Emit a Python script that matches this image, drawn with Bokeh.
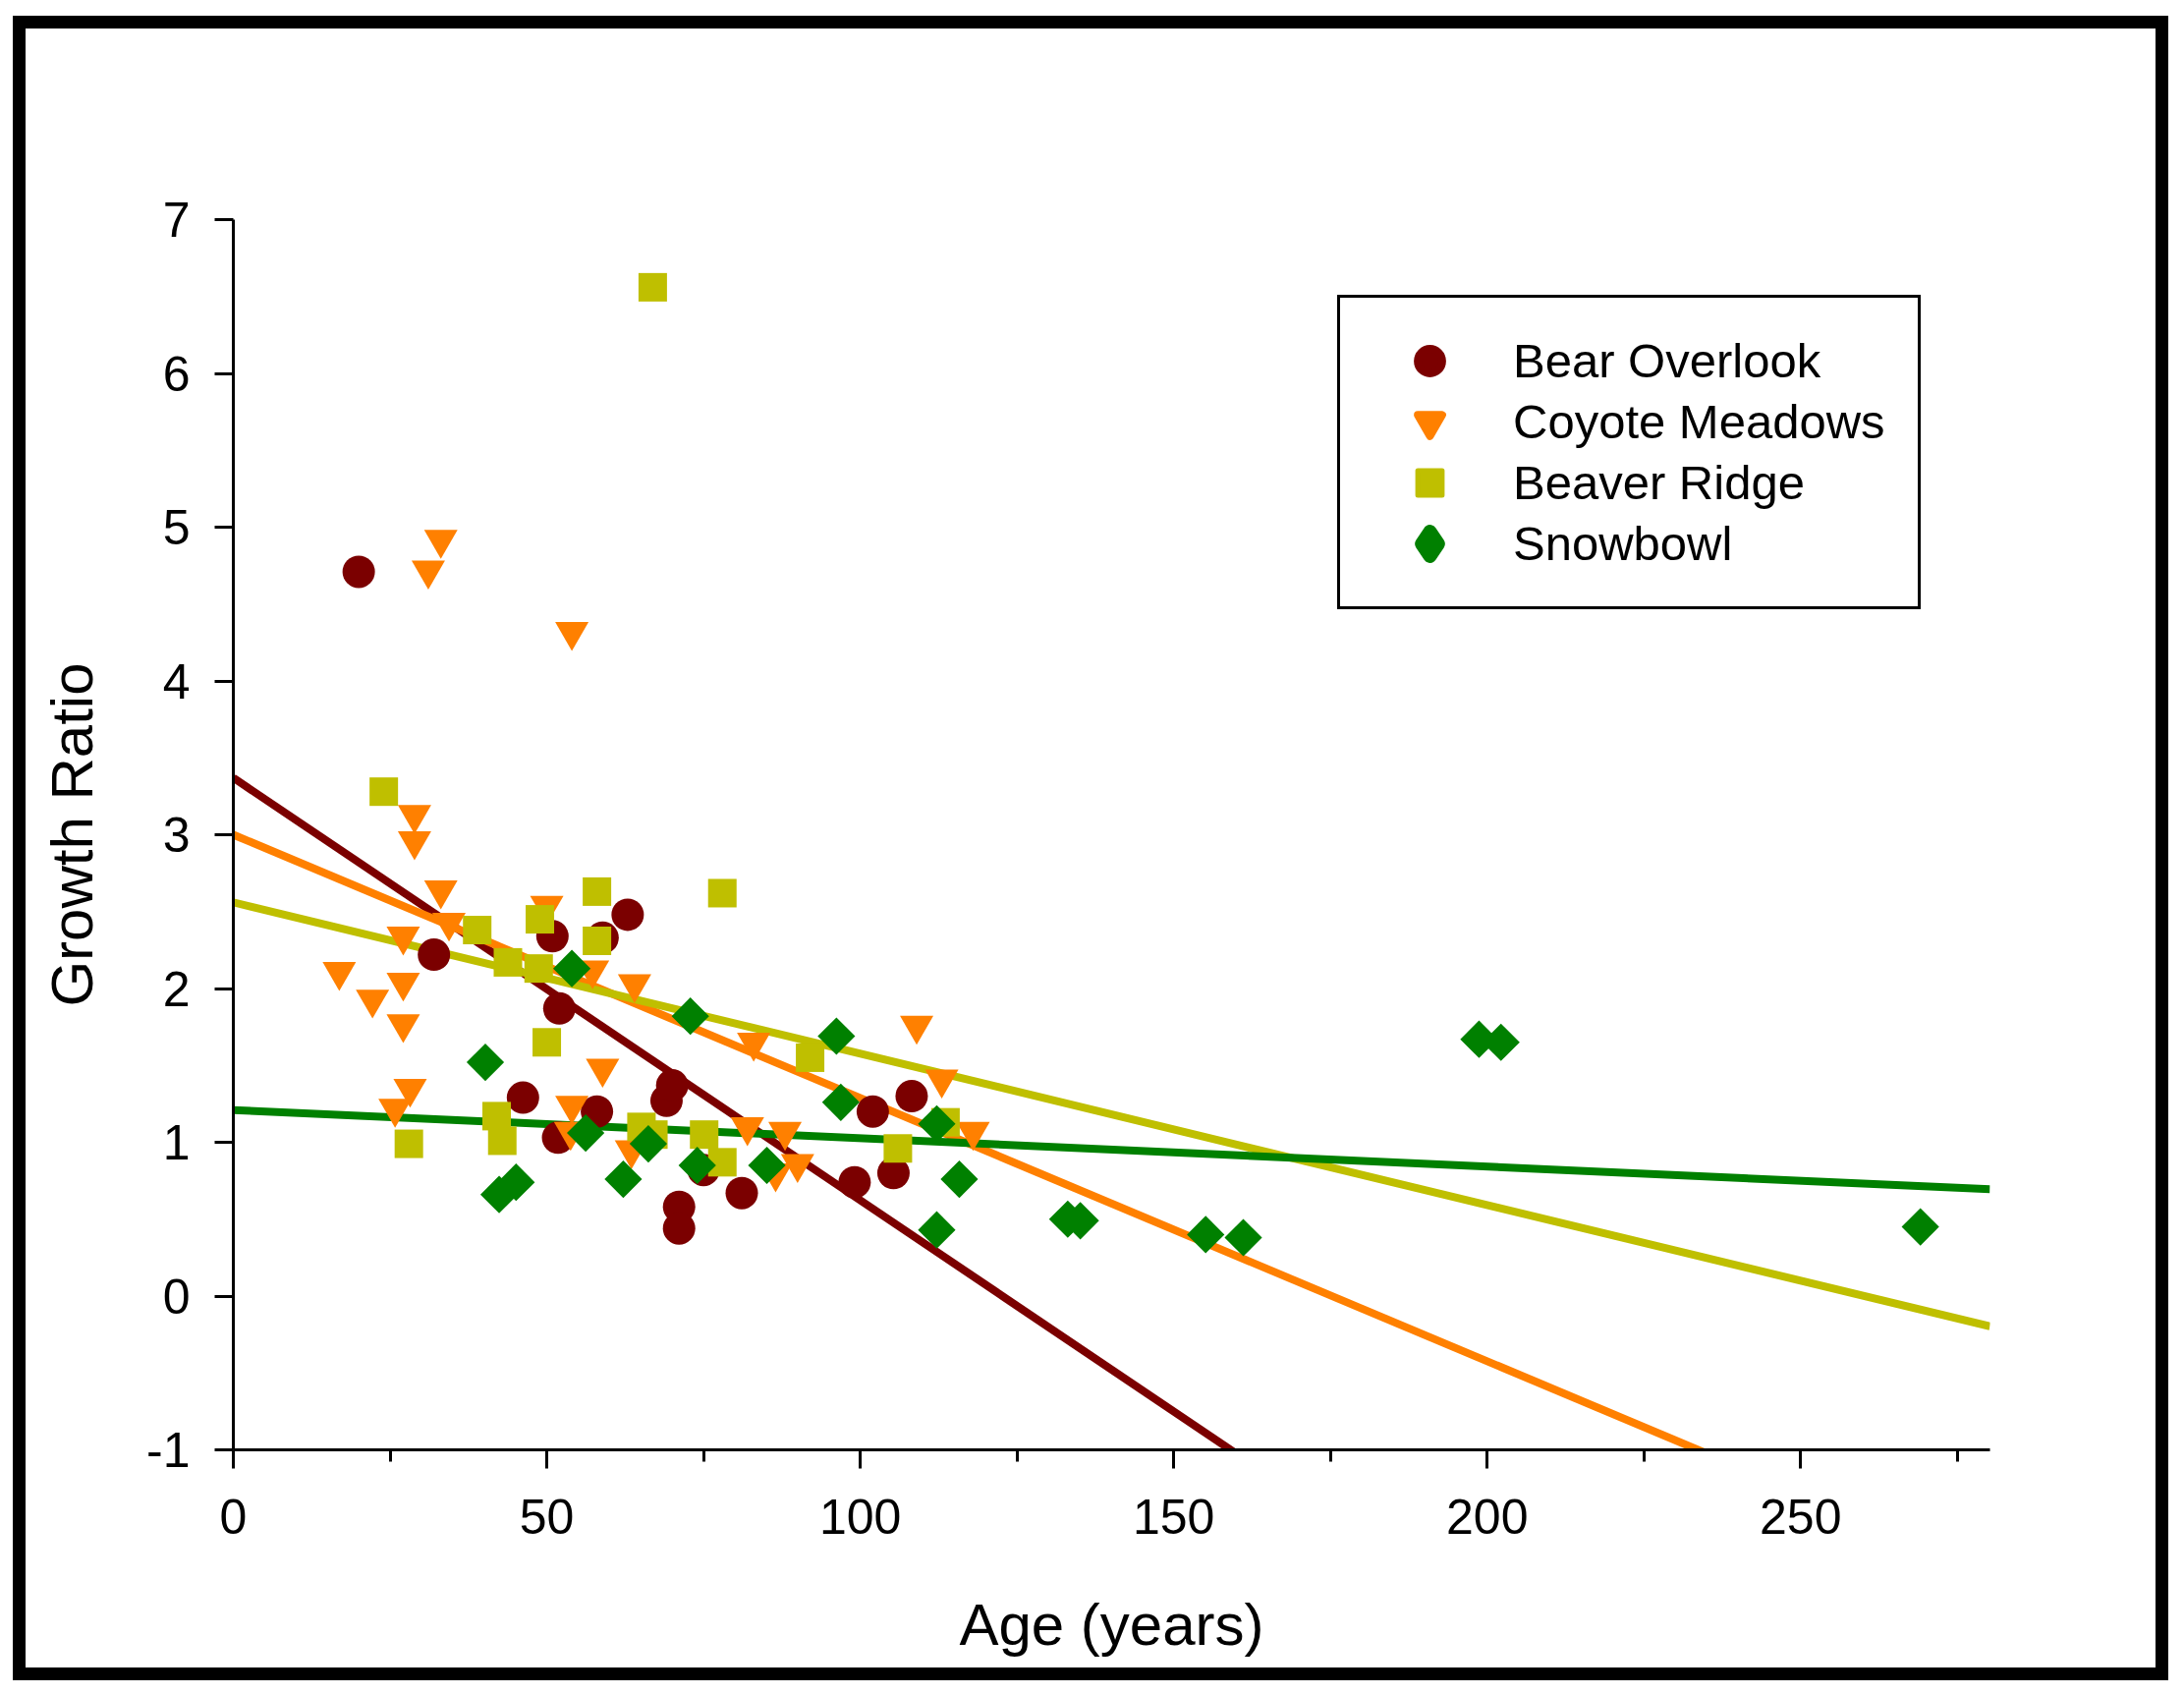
import numpy as np
from bokeh.plotting import figure
from bokeh.layouts import column
from bokeh.models import FixedTicker, Legend, LegendItem, Range1d
from bokeh.embed import file_html
from bokeh.resources import INLINE

FONT = "Liberation Sans"

# ---- data ----
series_names = ["Bear Overlook", "Coyote Meadows", "Beaver Ridge", "Snowbowl"]
series_colors = ["#7B0000", "#FF8000", "#BFBF00", "#008000"]

bear_age = [20, 32, 50.9, 58.9, 62.9, 52, 46.2, 51.8, 58, 69.1, 70, 71.1, 71.1,
            81.1, 75, 99.1, 102, 105.3, 108.2]
bear_ratio = [4.71, 2.22, 2.34, 2.33, 2.48, 1.87, 1.29, 1.03, 1.20, 1.27, 1.37,
              0.58, 0.44, 0.67, 0.82, 0.74, 1.20, 0.80, 1.30]

coyote_age = [33.1, 31.1, 54.0, 16.9, 22.2, 28.9, 28.9, 33.1, 34.4, 27.1, 27.1,
              27.1, 28.2, 25.8, 50.0, 57.3, 58.9, 54.0, 53.8, 64.0, 63.5, 83.0,
              82.0, 88.0, 90.0, 86.5, 109.0, 113.0, 118.0]
coyote_ratio = [4.92, 4.72, 4.32, 2.11, 1.93, 3.13, 2.96, 2.64, 2.43, 2.34, 2.04,
                1.77, 1.35, 1.22, 2.54, 2.12, 1.48, 1.24, 1.07, 2.03, 0.95, 1.65,
                1.10, 1.07, 0.86, 0.80, 1.76, 1.41, 1.07]

beaver_age = [66.9, 24, 78, 58, 38.9, 48.9, 58, 43.8, 48.7, 50, 92, 28, 42, 42.9,
              65.1, 67, 75.1, 78, 106, 113.6]
beaver_ratio = [6.56, 3.28, 2.62, 2.63, 2.38, 2.45, 2.31, 2.17, 2.13, 1.65, 1.55,
                0.99, 1.17, 1.01, 1.10, 1.05, 1.05, 0.87, 0.96, 1.13]

snow_age = [54, 40.2, 72.9, 96.2, 96.9, 56.2, 66.2, 74, 85.1, 112.2, 115.8, 42.4,
            45.1, 62.2, 112.2, 133.1, 135.1, 155.1, 161.1, 198.7, 202.2, 269.1]
snow_ratio = [2.13, 1.52, 1.82, 1.69, 1.26, 1.06, 0.99, 0.85, 0.85, 1.12, 0.76,
              0.66, 0.74, 0.76, 0.43, 0.50, 0.49, 0.40, 0.38, 1.67, 1.65, 0.45]

# regression lines: intercept and slope per series
fit_intercept = [3.37, 3.00, 2.56, 1.21]
fit_slope = [-0.02747, -0.01712, -0.00984, -0.00184]

x_ticks = [0, 50, 100, 150, 200, 250]
x_minor = [25, 75, 125, 175, 225, 275]
y_ticks = [-1, 0, 1, 2, 3, 4, 5, 6, 7]
x_max = 280.2

# ---- layout (page pixels) ----
BORDER = 13
OX, OY = 13, 16                 # outer corner of the black frame
IX, IY = OX + BORDER, OY + BORDER   # where the figure canvas starts
W, H = 2168, 1668
FL, FR, FT, FB = 237 - IX, 2025 - IX, 223 - IY, 1475 - IY   # plot frame in canvas px

p = figure(width=W, height=H, output_backend="svg", toolbar_location=None,
           x_range=Range1d(0, x_max), y_range=Range1d(-1, 7),
           min_border_left=FL, min_border_right=W - FR, min_border_top=FT,
           min_border_bottom=H - FB)
p.grid.visible = False
p.outline_line_color = None
p.background_fill_color = "white"
p.border_fill_color = "white"

# lines first
line_x = np.array([0.0, x_max])
for a, b, c in zip(fit_intercept, fit_slope, series_colors):
    p.line(line_x, a + b * line_x, line_color=c, line_width=8)

r_bear = p.scatter(bear_age, bear_ratio, marker="circle", size=33,
                   fill_color=series_colors[0], line_color=None)
r_coy = p.scatter(coyote_age, coyote_ratio, marker="inverted_triangle", size=34,
                  fill_color=series_colors[1], line_color=None)
r_bea = p.scatter(beaver_age, beaver_ratio, marker="square", size=29,
                  fill_color=series_colors[2], line_color=None)
r_snow = p.scatter(snow_age, snow_ratio, marker="square", angle=np.pi / 4, size=27,
                   fill_color=series_colors[3], line_color=None)

# legend key swatches (not drawn in the plot: NaN position), stroked to key size
leg_markers = ["circle", "inverted_triangle", "square", "diamond"]
leg_strokes = [8, 8, 5, 14]
leg_renderers = []
for m, c, lw in zip(leg_markers, series_colors, leg_strokes):
    leg_renderers.append(p.scatter([np.nan], [np.nan], marker=m, fill_color=c,
                                   line_color=c, line_width=lw, line_join="round"))

# axes
for ax in (p.xaxis[0], p.yaxis[0]):
    ax.axis_line_width = 3
    ax.axis_line_color = "black"
    ax.major_tick_line_width = 3
    ax.minor_tick_line_width = 3
    ax.major_tick_in = 0
    ax.minor_tick_in = 0
    ax.major_tick_out = 19
    ax.minor_tick_out = 12
    ax.major_label_text_font = FONT
    ax.major_label_text_font_size = "50px"
    ax.major_label_text_color = "black"
    ax.axis_label_text_font = FONT
    ax.axis_label_text_font_size = "60px"
    ax.axis_label_text_font_style = "normal"
    ax.axis_label_text_color = "black"

p.xaxis.ticker = FixedTicker(ticks=x_ticks, minor_ticks=x_minor)
p.yaxis.ticker = FixedTicker(ticks=y_ticks, minor_ticks=[])
p.yaxis.major_label_overrides = {-1: "-1"}
p.xaxis.axis_label = "Age (years)"
p.yaxis.axis_label = "Growth Ratio"
p.xaxis.major_label_standoff = 31
p.yaxis.major_label_standoff = 25
p.xaxis.axis_label_standoff = 56
p.yaxis.axis_label_standoff = 39

legend = Legend(items=[LegendItem(label=n, renderers=[r])
                       for n, r in zip(series_names, leg_renderers)],
                location=(1124, 855))
legend.border_line_color = "black"
legend.border_line_alpha = 1
legend.border_line_width = 3
legend.background_fill_color = "white"
legend.background_fill_alpha = 1
legend.label_text_font = FONT
legend.label_text_font_size = "49px"
legend.label_text_color = "black"
legend.glyph_height = 62
legend.glyph_width = 116
legend.label_height = 62
legend.spacing = 0
legend.padding = 33
legend.label_standoff = 27
legend.margin = 0
p.add_layout(legend)

# thick black frame around the whole picture
page = column(p, styles={"border": f"{BORDER}px solid black",
                         "margin-left": f"{OX}px", "margin-top": f"{OY}px",
                         "background-color": "white"})

open("out.html", "w").write(file_html(page, INLINE))
